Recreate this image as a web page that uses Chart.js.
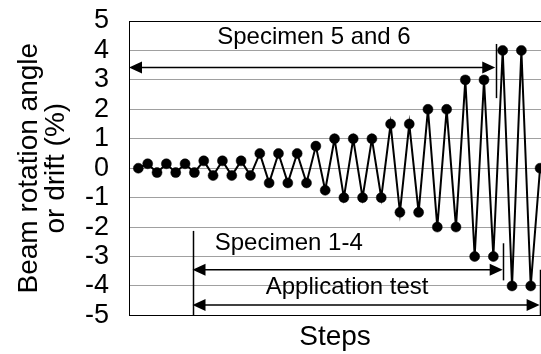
<!DOCTYPE html>
<html lang="en">
<head>
<meta charset="UTF-8">
<title>Loading protocol</title>
<script src="https://cdn.jsdelivr.net/npm/chart.js"></script>
<style>
  html, body { margin: 0; padding: 0; background: #fff; }
  #wrap { width: 541px; height: 354px; }
</style>
</head>
<body>
<div id="wrap"><canvas id="protocolChart" width="541" height="354"></canvas></div>
<script>
// drift history, one value per step
const drift = [
  0, 0.15, -0.15, 0.15, -0.15, 0.15, -0.15,
  0.25, -0.25, 0.25, -0.25, 0.25, -0.25,
  0.5, -0.5, 0.5, -0.5, 0.5, -0.5,
  0.75, -0.75,
  1, -1, 1, -1, 1, -1,
  1.5, -1.5, 1.5, -1.5,
  2, -2, 2, -2,
  3, -3, 3, -3,
  4, -4, 4, -4,
  0
];
const yTicks = [-5, -4, -3, -2, -1, 0, 1, 2, 3, 4, 5];

// range markers in data units: [from step, to step, drift level]
const rangeLabels = ["Specimen 5 and 6", "Specimen 1-4", "Application test"];
const rangeFrom = [-1, 5.8, 5.8];
const rangeTo = [38.2, 39.0, 42.95];
const rangeLevel = [3.42, -3.45, -4.65];
const labelStep = [18.8, 16.1, 22.35];
const labelLevel = [4.46, -2.55, -4.05];
// end bars: [step, top level, bottom level]
const bars = [[38.3, 4.22, 2.38], [5.8, -2.13, -5], [39.0, -2.55, -3.81], [42.95, -3.45, -5]];

const FONT = '"Liberation Sans", Arial, sans-serif';
const points = drift.map((v, i) => ({ x: i, y: v }));

const arrowPlugin = {
  id: 'arrows',
  afterDatasetsDraw(chart) {
    const { ctx } = chart;
    const xs = chart.scales.x, ys = chart.scales.y;
    ctx.save();
    ctx.strokeStyle = '#000';
    ctx.fillStyle = '#000';
    ctx.lineWidth = 1.5;

    function head(x, y, dir) {
      ctx.beginPath();
      ctx.moveTo(x, y);
      ctx.lineTo(x - dir * 13, y - 6);
      ctx.lineTo(x - dir * 13, y + 6);
      ctx.closePath();
      ctx.fill();
    }

    for (let i = 0; i < rangeLabels.length; i++) {
      const x1 = xs.getPixelForValue(rangeFrom[i]);
      const x2 = xs.getPixelForValue(rangeTo[i]);
      const y = ys.getPixelForValue(rangeLevel[i]);
      ctx.beginPath();
      ctx.moveTo(x1 + 6, y);
      ctx.lineTo(x2 - 6, y);
      ctx.stroke();
      head(x1, y, -1);
      head(x2, y, 1);

      ctx.font = '24px ' + FONT;
      ctx.textAlign = 'center';
      ctx.textBaseline = 'middle';
      ctx.fillText(rangeLabels[i], xs.getPixelForValue(labelStep[i]), ys.getPixelForValue(labelLevel[i]));
    }

    bars.forEach(b => {
      const x = Math.round(xs.getPixelForValue(b[0])) + 0.5;
      ctx.beginPath();
      ctx.moveTo(x, ys.getPixelForValue(b[1]));
      ctx.lineTo(x, ys.getPixelForValue(b[2]));
      ctx.stroke();
    });
    ctx.restore();
  }
};

const topLine = {
  id: 'topLine',
  beforeDatasetsDraw(chart) {
    const { ctx, chartArea } = chart;
    ctx.save();
    ctx.strokeStyle = '#000';
    ctx.lineWidth = 1;
    ctx.beginPath();
    ctx.moveTo(chartArea.left, Math.round(chartArea.top) + 0.5);
    ctx.lineTo(chartArea.right, Math.round(chartArea.top) + 0.5);
    ctx.stroke();
    ctx.restore();
  }
};

new Chart(document.getElementById('protocolChart'), {
  type: 'line',
  data: {
    datasets: [{
      data: points,
      borderColor: '#000',
      backgroundColor: '#000',
      borderWidth: 2,
      pointRadius: 5,
      pointBorderWidth: 0.5,
      pointHoverRadius: 5,
      tension: 0
    }]
  },
  options: {
    responsive: false,
    animation: false,
    layout: { autoPadding: false, padding: { top: 21, right: 0, left: 0, bottom: 0 } },
    plugins: { legend: { display: false }, tooltip: { enabled: false } },
    scales: {
      x: {
        type: 'linear',
        min: -1,
        max: 43.1,
        afterFit(scale) { scale.paddingLeft = 0; scale.paddingRight = 0; },
        grid: { display: false, drawTicks: false },
        border: { color: '#000', width: 1 },
        ticks: { display: false },
        title: {
          display: true,
          text: 'Steps',
          color: '#000',
          font: { family: FONT, size: 28, lineHeight: 1.2 },
          padding: { top: 5, bottom: 0 }
        }
      },
      y: {
        min: -5,
        max: 5,
        afterBuildTicks(scale) { scale.ticks = yTicks.map(v => ({ value: v })); },
        afterFit(scale) { scale.width = 129; scale.paddingTop = 0; scale.paddingBottom = 0; },
        grid: { color: '#a0a0a0', lineWidth: 1, drawTicks: false },
        border: { color: '#000', width: 1 },
        ticks: {
          color: '#000',
          padding: 20,
          autoSkip: false,
          font: { family: FONT, size: 27 }
        },
        title: {
          display: true,
          text: ['Beam rotation angle', 'or drift (%)'],
          color: '#000',
          font: { family: FONT, size: 28, lineHeight: 0.95 },
          padding: { top: 16, bottom: 0 }
        }
      }
    }
  },
  plugins: [topLine, arrowPlugin]
});
</script>
</body>
</html>
